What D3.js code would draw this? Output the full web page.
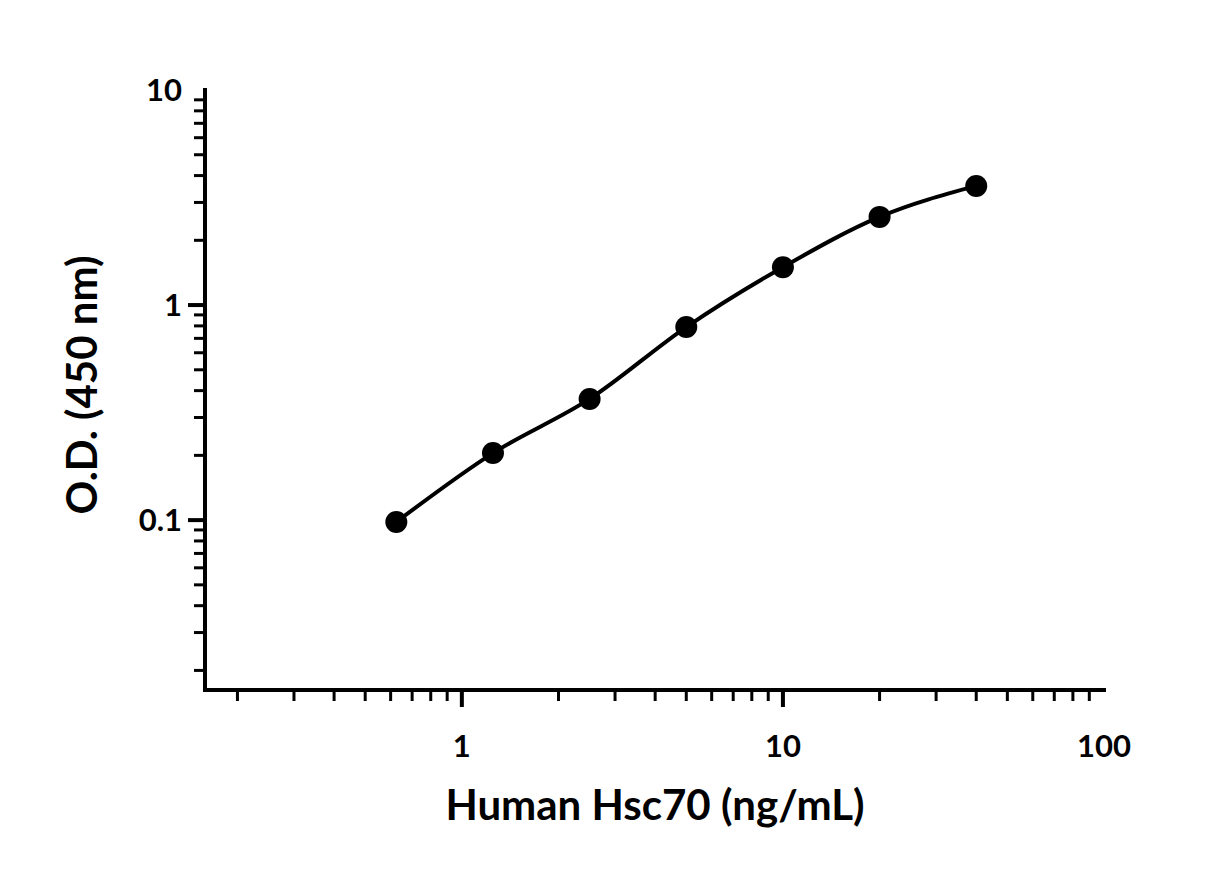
<!DOCTYPE html>
<html><head><meta charset="utf-8">
<script src="https://cdn.jsdelivr.net/npm/d3@7"></script>
<style>body{margin:0;background:#fff}text{font-family:Lato,"DejaVu Sans",sans-serif;font-weight:bold}</style>
</head><body>
<svg id="c" width="1230" height="870"></svg>
<script>
const conc = [0.625, 1.25, 2.5, 5, 10, 20, 40];
const od = [0.098, 0.205, 0.366, 0.79, 1.50, 2.57, 3.58];
const xTickLabels = [1, 10, 100];
const yTickLabels = [0.1, 1, 10];
const xLabel = "Human Hsc70 (ng/mL)";
const yLabel = "O.D. (450 nm)";

const svg = d3.select("#c");
const x = d3.scaleLog().domain([Math.pow(10,-0.8), 100]).range([205, 1104]);
const y = d3.scaleLog().domain([Math.pow(10,-1.79), 10]).range([690, 90]);

const xMinor = [], yMinor = [];
for (let e=-1;e<2;e++) for (let m=1;m<10;m++){const v=m*Math.pow(10,e); if(v>=x.domain()[0]&&v<=100) xMinor.push(v);}
for (let e=-2;e<1;e++) for (let m=1;m<10;m++){const v=m*Math.pow(10,e); if(v>=y.domain()[0]&&v<=10) yMinor.push(v);}

const g = svg.append("g");
// axes lines
g.append("line").attr("x1",205).attr("x2",205).attr("y1",88).attr("y2",692).attr("stroke","#000").attr("stroke-width",4);
g.append("line").attr("x1",203).attr("x2",1106).attr("y1",690).attr("y2",690).attr("stroke","#000").attr("stroke-width",4);
xMinor.forEach(v=>{const maj=xTickLabels.includes(v);
  g.append("line").attr("x1",x(v)).attr("x2",x(v)).attr("y1",690).attr("y2",maj?707:701).attr("stroke","#000").attr("stroke-width",maj?4:3);});
yMinor.forEach(v=>{const maj=yTickLabels.includes(v);
  g.append("line").attr("x1",205).attr("x2",maj?188:194).attr("y1",y(v)).attr("y2",y(v)).attr("stroke","#000").attr("stroke-width",maj?4:3);});
xTickLabels.forEach(v=>g.append("text").attr("x",x(v)).attr("y",757).attr("text-anchor","middle").attr("font-size",31).text(v));
yTickLabels.forEach(v=>g.append("text").attr("x",182).attr("y",y(v)+11).attr("text-anchor","end").attr("font-size",31).text(v));
g.append("text").attr("x",655).attr("y",820).attr("text-anchor","middle").attr("font-size",42).text(xLabel);
g.append("text").attr("transform","translate(97,385) rotate(-90)").attr("text-anchor","middle").attr("font-size",42).text(yLabel);

const pts = conc.map((c,i)=>[c,od[i]]);
g.append("path").attr("d", d3.line().x(d=>x(d[0])).y(d=>y(d[1])).curve(d3.curveMonotoneX)(pts))
 .attr("fill","none").attr("stroke","#000").attr("stroke-width",4);
g.selectAll("circle.p").data(pts).join("circle").attr("cx",d=>x(d[0])).attr("cy",d=>y(d[1])).attr("r",11).attr("fill","#000");
</script></body></html>
